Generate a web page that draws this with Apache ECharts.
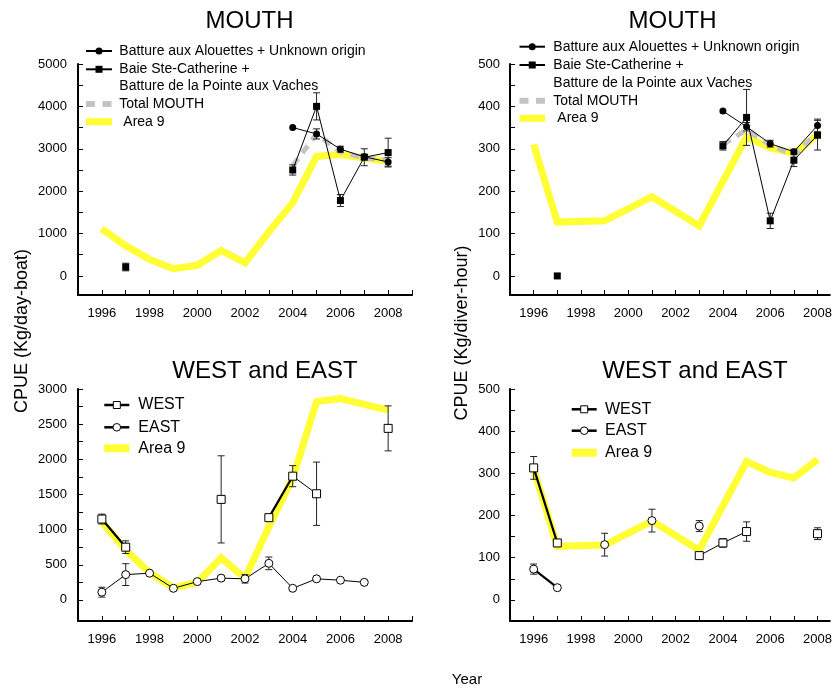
<!DOCTYPE html>
<html>
<head>
<meta charset="utf-8">
<script src="https://cdn.jsdelivr.net/npm/echarts@6/dist/echarts.min.js"></script>
<style>
  html, body { margin: 0; padding: 0; background: #fff; }
  #chart { width: 835px; height: 692px; }
</style>
</head>
<body>
<div id="chart"></div>
<script>
// ---- Data -------------------------------------------------------------
const years = [1996, 1997, 1998, 1999, 2000, 2001, 2002, 2003, 2004, 2005, 2006, 2007, 2008];
const xTickYears = [1996, 1997, 1998, 1999, 2000, 2001, 2002, 2003, 2004, 2005, 2006, 2007, 2008, 2009];
const xLabelYears = [1996, 1998, 2000, 2002, 2004, 2006, 2008];

const boatTopTicks = [0, 500, 1000, 1500, 2000, 2500, 3000, 3500, 4000, 4500, 5000];
const boatTopLabels = [0, 1000, 2000, 3000, 4000, 5000];
const boatBottomTicks = [0, 250, 500, 750, 1000, 1250, 1500, 1750, 2000, 2250, 2500, 2750, 3000];
const boatBottomLabels = [0, 500, 1000, 1500, 2000, 2500, 3000];
const diverTicks = [0, 50, 100, 150, 200, 250, 300, 350, 400, 450, 500];
const diverLabels = [0, 100, 200, 300, 400, 500];

// Area 9 CPUE (same series in the MOUTH and WEST/EAST panels)
const area9Boat = [1110, 710, 390, 170, 250, 600, 310, 1040, 1730, 2820, 2865, 2780, 2700];
const area9Diver = [310, 127, null, 130, null, 187, null, 118, null, 328, 302, 289, 333];

// MOUTH, Kg/day-boat
const alouettesBoat = [null, null, null, null, null, null, null, null, 3500, 3350, 2990, 2810, 2690];
const alouettesBoatErr = [null, null, null, null, null, null, null, null, 0, 120, 70, 60, 100];
const baieBoat = [null, 210, null, null, null, null, null, null, 2500, 4000, 1780, 2800, 2910];
const baieBoatErr = [null, 90, null, null, null, null, null, null, 120, 320, 140, 200, 340];
const totalMouthBoat = [null, null, null, null, null, null, null, null, 2600, 3350, 2930, 2780, 2730];

// MOUTH, Kg/diver-hour
const alouettesDiver = [null, null, null, null, null, null, null, null, 389, 352, 312, 293, 355];
const alouettesDiverErr = [null, null, null, null, null, null, null, null, 0, 10, 8, 6, 15];
const baieDiver = [null, 0, null, null, null, null, null, null, 307, 374, 130, 273, 332];
const baieDiverErr = [null, 0, null, null, null, null, null, null, 10, 66, 18, 15, 35];
const totalMouthDiver = [null, null, null, null, null, null, null, null, 310, 345, 308, 285, 338];

// WEST and EAST, Kg/day-boat
const westBoat = [1150, 750, null, null, null, 1430, null, 1170, 1760, 1510, null, null, 2440];
const westBoatErr = [70, 90, null, null, null, 620, null, 30, 150, 450, null, null, 320];
const eastBoat = [110, 360, 380, 165, 260, 310, 300, 520, 165, 300, 280, 250, null];
const eastBoatErr = [70, 155, 0, 0, 20, 30, 60, 90, 0, 0, 0, 0, null];

// WEST and EAST, Kg/diver-hour
const westDiver = [313, 135, null, null, null, null, null, 105, 135, 162, null, null, 157];
const westDiverErr = [27, 8, null, null, null, null, null, 0, 10, 23, null, null, 14];
const eastDiver = [73, 29, null, 131, null, 188, null, 175, null, null, null, null, null];
const eastDiverErr = [12, 0, null, 27, null, 27, null, 13, null, null, null, null, null];

// years joined by a heavier stroke
const westBoatHeavy = [1996, 1997, 2003, 2004];
const westDiverHeavy = [1996, 1997];
const eastDiverHeavy = [1996, 1997];

const NAME_ALOUETTES = 'Batture aux Alouettes + Unknown origin';
const NAME_BAIE = 'Baie Ste-Catherine +\nBatture de la Pointe aux Vaches';
const NAME_TOTAL = 'Total MOUTH';
const NAME_AREA9 = 'Area 9';
const NAME_WEST = 'WEST';
const NAME_EAST = 'EAST';

// ---- Styling ----------------------------------------------------------
const FONT = '"Liberation Sans", Arial, Helvetica, sans-serif';
const YELLOW = '#ffff33';
const GREY = '#c4c4c4';

function pts(vals, only) {
  return years.map((y, i) => {
    const v = vals[i];
    if (v == null || (only && only.indexOf(y) < 0)) return [y, '-'];
    return [y, v];
  });
}

function area9Series(vals, gi) {
  return {
    type: 'line', name: NAME_AREA9, xAxisIndex: gi, yAxisIndex: gi, z: 1,
    data: pts(vals), connectNulls: true, symbol: 'none', silent: true,
    lineStyle: { color: YELLOW, width: 7, join: 'miter' }
  };
}

function totalSeries(vals, gi) {
  return {
    type: 'line', name: NAME_TOTAL, xAxisIndex: gi, yAxisIndex: gi, z: 2,
    data: pts(vals), symbol: 'none', silent: true,
    lineStyle: { color: GREY, width: 5, type: [9, 7] }
  };
}

function markerSeries(name, vals, gi, symbol, open, size) {
  return {
    type: 'line', name: name, xAxisIndex: gi, yAxisIndex: gi, z: 5,
    data: pts(vals), connectNulls: false, symbol: symbol, symbolSize: size, showSymbol: true,
    silent: true,
    lineStyle: { color: '#000', width: 1 },
    itemStyle: open ? { color: '#fff', borderColor: '#000', borderWidth: 1 } : { color: '#000', borderWidth: 0 }
  };
}

function heavySeries(vals, gi, only) {
  return {
    type: 'line', xAxisIndex: gi, yAxisIndex: gi, z: 4,
    data: pts(vals, only), connectNulls: false, symbol: 'none', silent: true,
    lineStyle: { color: '#000', width: 2.2 }
  };
}

function errorBars(vals, errs, gi) {
  const data = [];
  years.forEach((y, i) => {
    if (vals[i] != null && errs[i]) data.push([y, vals[i] - errs[i], vals[i] + errs[i]]);
  });
  return {
    type: 'custom', xAxisIndex: gi, yAxisIndex: gi, z: 3, silent: true,
    data: data, encode: { x: 0, y: [1, 2] },
    renderItem: function (params, api) {
      const x = api.value(0);
      const lo = api.coord([x, api.value(1)]);
      const hi = api.coord([x, api.value(2)]);
      const hw = 3.5;
      const style = { stroke: '#222', lineWidth: 1 };
      return {
        type: 'group',
        children: [
          { type: 'line', shape: { x1: lo[0], y1: lo[1], x2: hi[0], y2: hi[1] }, style: style },
          { type: 'line', shape: { x1: lo[0] - hw, y1: lo[1], x2: lo[0] + hw, y2: lo[1] }, style: style },
          { type: 'line', shape: { x1: hi[0] - hw, y1: hi[1], x2: hi[0] + hw, y2: hi[1] }, style: style }
        ]
      };
    }
  };
}

// The right-hand panels run off the right edge of the page, so their
// year axis stops part-way through 2008-2009.
function xAxisFor(gi, max) {
  return {
    gridIndex: gi, type: 'value', min: 1995, max: max,
    axisLine: { show: true, onZero: false, lineStyle: { color: '#000', width: 2 } },
    axisTick: { show: true, inside: true, length: 5, customValues: xTickYears.filter(v => v <= max),
      lineStyle: { color: '#000', width: 1 } },
    axisLabel: { customValues: xLabelYears, margin: 12, fontSize: 13, color: '#000', fontFamily: FONT,
      formatter: v => String(v), hideOverlap: false },
    splitLine: { show: false }
  };
}

function yAxisFor(gi, min, max, ticks, labels, margin) {
  return {
    gridIndex: gi, type: 'value', min: min, max: max,
    axisLine: { show: true, onZero: false, lineStyle: { color: '#000', width: 2 } },
    axisTick: { show: true, inside: true, length: 5, customValues: ticks, lineStyle: { color: '#000', width: 1 } },
    axisLabel: { customValues: labels, margin: margin, fontSize: 13, color: '#000', fontFamily: FONT,
      formatter: v => String(v) },
    splitLine: { show: false }
  };
}

// ---- Legends (drawn as graphic groups) -------------------------------
function legendLine(x0, x1, y, stroke, width, dash) {
  return { type: 'line', shape: { x1: x0, y1: y, x2: x1, y2: y },
    style: { stroke: stroke, lineWidth: width, lineDash: dash || null } };
}
function legendText(x, y, text, size, lineHeight) {
  return { type: 'text', x: x, y: y,
    style: { text: text, fill: '#000', font: size + 'px ' + FONT, verticalAlign: 'middle', align: 'left',
      lineHeight: lineHeight || size + 3 } };
}

function mouthLegend(x0, x1, tx, ys) {
  const sx = (x0 + x1) / 2;
  return [
    legendLine(x0, x1, ys[0], '#000', 2),
    { type: 'circle', shape: { cx: sx, cy: ys[0], r: 3.5 }, style: { fill: '#000' } },
    legendText(tx, ys[0], NAME_ALOUETTES, 14),
    legendLine(x0, x1, ys[1], '#000', 2),
    { type: 'rect', shape: { x: sx - 3.5, y: ys[1] - 3.5, width: 7, height: 7 }, style: { fill: '#000' } },
    legendText(tx, (ys[1] + ys[2]) / 2, NAME_BAIE, 14, ys[2] - ys[1]),
    legendLine(x0, x1, ys[3], GREY, 6, [9, 7.5]),
    legendText(tx, ys[3], NAME_TOTAL, 14),
    legendLine(x0, x1, ys[4], YELLOW, 7),
    legendText(tx + 4, ys[4], NAME_AREA9, 14)
  ];
}

function westEastLegend(x0, x1, tx, ys) {
  const sx = (x0 + x1) / 2;
  return [
    legendLine(x0, x1, ys[0], '#000', 2.5),
    { type: 'rect', shape: { x: sx - 3.5, y: ys[0] - 3.5, width: 7, height: 7 }, style: { fill: '#fff', stroke: '#000', lineWidth: 1 } },
    legendText(tx, ys[0], NAME_WEST, 16),
    legendLine(x0, x1, ys[1], '#000', 2.5),
    { type: 'circle', shape: { cx: sx, cy: ys[1], r: 3.8 }, style: { fill: '#fff', stroke: '#000', lineWidth: 1 } },
    legendText(tx, ys[1], NAME_EAST, 16),
    legendLine(x0, x1, ys[2], YELLOW, 8),
    legendText(tx, ys[2], NAME_AREA9, 16)
  ];
}

function centredText(x, y, text, size, rotation) {
  return { type: 'text', x: x, y: y, rotation: rotation || 0,
    style: { text: text, fill: '#000', font: size + 'px ' + FONT, align: 'center', verticalAlign: 'middle' } };
}

// ---- Chart ------------------------------------------------------------
const chart = echarts.init(document.getElementById('chart'), null, { renderer: 'canvas' });

const RIGHT_X_MAX = 2008.52;

const option = {
  animation: false,
  backgroundColor: '#fff',
  grid: [
    { left: 78, top: 64, width: 334, height: 231 },
    { left: 510, top: 64, width: 325, height: 231 },
    { left: 78, top: 389, width: 334, height: 232 },
    { left: 510, top: 389, width: 325, height: 232 }
  ],
  xAxis: [xAxisFor(0, 2009), xAxisFor(1, RIGHT_X_MAX), xAxisFor(2, 2009), xAxisFor(3, RIGHT_X_MAX)],
  yAxis: [
    yAxisFor(0, -450, 5000, boatTopTicks, boatTopLabels, 11),
    yAxisFor(1, -45, 500, diverTicks, diverLabels, 10),
    yAxisFor(2, -300, 3000, boatBottomTicks, boatBottomLabels, 11),
    yAxisFor(3, -50, 500, diverTicks, diverLabels, 10)
  ],
  series: [
    // MOUTH, Kg/day-boat
    area9Series(area9Boat, 0),
    totalSeries(totalMouthBoat, 0),
    errorBars(alouettesBoat, alouettesBoatErr, 0),
    errorBars(baieBoat, baieBoatErr, 0),
    markerSeries(NAME_ALOUETTES, alouettesBoat, 0, 'circle', false, 7),
    markerSeries(NAME_BAIE, baieBoat, 0, 'rect', false, 7),
    // MOUTH, Kg/diver-hour
    area9Series(area9Diver, 1),
    totalSeries(totalMouthDiver, 1),
    errorBars(alouettesDiver, alouettesDiverErr, 1),
    errorBars(baieDiver, baieDiverErr, 1),
    markerSeries(NAME_ALOUETTES, alouettesDiver, 1, 'circle', false, 7),
    markerSeries(NAME_BAIE, baieDiver, 1, 'rect', false, 7),
    // WEST and EAST, Kg/day-boat
    area9Series(area9Boat, 2),
    errorBars(westBoat, westBoatErr, 2),
    errorBars(eastBoat, eastBoatErr, 2),
    heavySeries(westBoat, 2, westBoatHeavy),
    markerSeries(NAME_WEST, westBoat, 2, 'rect', true, 8),
    markerSeries(NAME_EAST, eastBoat, 2, 'circle', true, 8),
    // WEST and EAST, Kg/diver-hour
    area9Series(area9Diver, 3),
    errorBars(westDiver, westDiverErr, 3),
    errorBars(eastDiver, eastDiverErr, 3),
    heavySeries(westDiver, 3, westDiverHeavy),
    heavySeries(eastDiver, 3, eastDiverHeavy),
    markerSeries(NAME_WEST, westDiver, 3, 'rect', true, 8),
    markerSeries(NAME_EAST, eastDiver, 3, 'circle', true, 8)
  ],
  graphic: [
    centredText(249.5, 21, 'MOUTH', 24),
    centredText(672.5, 21, 'MOUTH', 24),
    centredText(265, 371, 'WEST and EAST', 24),
    centredText(695, 371, 'WEST and EAST', 24),
    centredText(21.7, 331, 'CPUE (Kg/day-boat)', 18, Math.PI / 2),
    centredText(461.7, 333, 'CPUE (Kg/diver-hour)', 18, Math.PI / 2),
    centredText(467, 680, 'Year', 15),
    { type: 'group', children: mouthLegend(86, 112, 119.3, [51, 69.3, 86.3, 104, 121.7]) },
    { type: 'group', children: mouthLegend(519.5, 545, 553.3, [46.7, 65, 82.7, 100.7, 118.3]) },
    { type: 'group', children: westEastLegend(104.3, 129.3, 138.3, [405, 427.3, 448.3]) },
    { type: 'group', children: westEastLegend(571.7, 596.7, 605, [409.3, 430.7, 452.7]) }
  ]
};

chart.setOption(option);
</script>
</body>
</html>
